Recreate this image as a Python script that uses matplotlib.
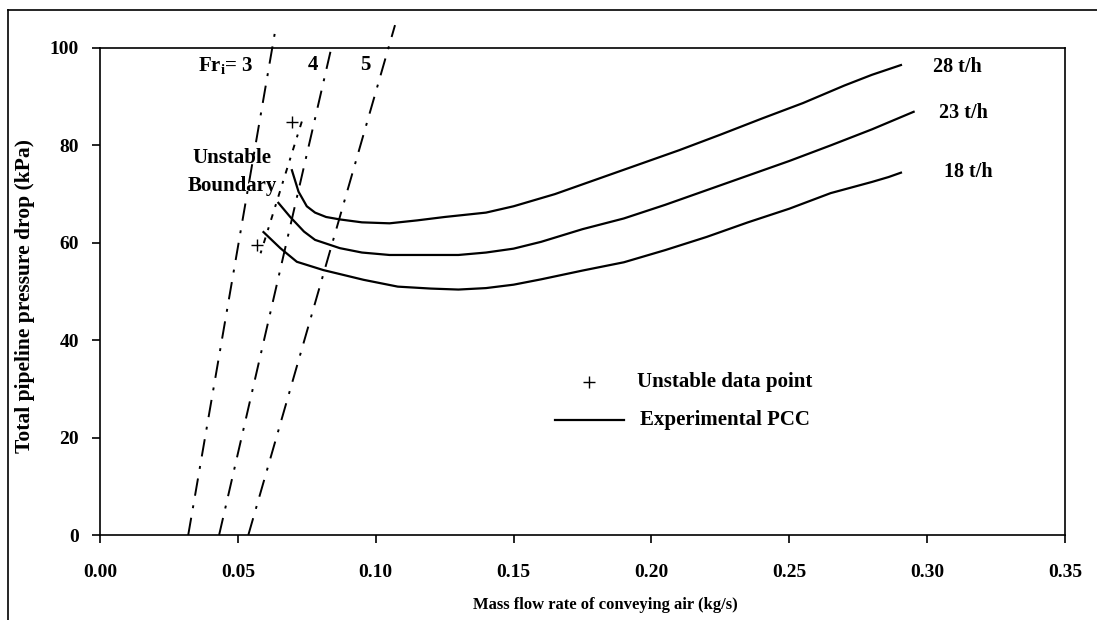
import matplotlib
matplotlib.use( 'Agg' )
import matplotlib.pyplot as plt
from matplotlib.lines import Line2D

# experimental pipeline conveying characteristics (kg/s , kPa)
x28 = [ 0.0696 , 0.0720 , 0.0750 , 0.0780 , 0.0820 , 0.0870 , 0.0950 , 0.1050 , 0.1150 , 0.1250 , 0.1400 , 0.1500 , 0.1650 , 0.1800 , 0.1950 , 0.2100 , 0.2250 , 0.2400 , 0.2550 , 0.2700 , 0.2800 , 0.2905 ]
y28 = [ 74.9 , 70.5 , 67.5 , 66.2 , 65.3 , 64.8 , 64.2 , 64.0 , 64.6 , 65.3 , 66.2 , 67.5 , 70.0 , 73.0 , 76.0 , 79.0 , 82.2 , 85.5 , 88.7 , 92.3 , 94.5 , 96.5 ]
x23 = [ 0.0647 , 0.0690 , 0.0740 , 0.0780 , 0.0870 , 0.0950 , 0.1050 , 0.1200 , 0.1300 , 0.1400 , 0.1500 , 0.1600 , 0.1750 , 0.1900 , 0.2050 , 0.2200 , 0.2350 , 0.2500 , 0.2650 , 0.2800 , 0.2951 ]
y23 = [ 68.2 , 65.3 , 62.3 , 60.6 , 58.9 , 58.0 , 57.5 , 57.5 , 57.5 , 58.0 , 58.8 , 60.2 , 62.8 , 65.0 , 67.8 , 70.8 , 73.8 , 76.8 , 80.0 , 83.3 , 86.9 ]
x18 = [ 0.0593 , 0.0654 , 0.0714 , 0.0810 , 0.0956 , 0.1080 , 0.1200 , 0.1300 , 0.1400 , 0.1500 , 0.1600 , 0.1750 , 0.1900 , 0.2050 , 0.2200 , 0.2350 , 0.2500 , 0.2650 , 0.2800 , 0.2860 , 0.2905 ]
y18 = [ 62.2 , 58.9 , 56.1 , 54.4 , 52.4 , 51.0 , 50.6 , 50.4 , 50.7 , 51.4 , 52.5 , 54.3 , 56.0 , 58.5 , 61.2 , 64.2 , 67.0 , 70.2 , 72.5 , 73.5 , 74.4 ]
curveLabels = [ '28 t/h' , '23 t/h' , '18 t/h' ]
curveLabelPos = [ ( 0.3023 , 96.1 ) , ( 0.3043 , 86.7 ) , ( 0.3060 , 74.6 ) ]

# constant inlet Froude number lines
frX = [ [ 0.0320 , 0.0639 ] , [ 0.0432 , 0.0843 ] , [ 0.0538 , 0.1070 ] ]
frY = [ [ 0.0 , 104.7 ] , [ 0.0 , 101.0 ] , [ 0.0 , 104.7 ] ]
frLabels = [ 'Fr$_\\mathregular{i}$= 3' , '4' , '5' ]
frLabelPos = [ ( 0.0356 , 96.5 ) , ( 0.0755 , 96.5 ) , ( 0.0943 , 96.5 ) ]

# unstable data points and boundary
unstX = [ 0.0698 , 0.0569 ]
unstY = [ 84.9 , 59.5 ]
boundX = [ 0.0732 , 0.0575 ]
boundY = [ 84.9 , 56.5 ]

xticks = [ 0.00 , 0.05 , 0.10 , 0.15 , 0.20 , 0.25 , 0.30 , 0.35 ]
yticks = [ 0 , 20 , 40 , 60 , 80 , 100 ]

plt.rcParams[ 'font.family' ] = [ 'Liberation Serif' , 'DejaVu Serif' ]
plt.rcParams[ 'font.weight' ] = 'bold'
plt.rcParams[ 'mathtext.default' ] = 'regular'

fig = plt.figure( figsize = ( 10.97 , 6.2 ) , dpi = 100 )
ax = fig.add_axes( [ 100 / 1097 , 1 - 535 / 620 , 965 / 1097 , 487 / 620 ] )

for xs , ys in zip( [ x28 , x23 , x18 ] , [ y28 , y23 , y18 ] ) :
	ax.plot( xs , ys , 'k-' , linewidth = 1.6 )
for ( px , py ) , lab in zip( curveLabelPos , curveLabels ) :
	ax.text( px , py , lab , fontsize = 14.5 , fontweight = 'bold' , va = 'center' , ha = 'left' )

for xs , ys in zip( frX , frY ) :
	ax.plot( xs , ys , color = 'k' , linewidth = 1.4 , dashes = ( 9 , 5 , 1.5 , 5 ) , clip_on = False )
for ( px , py ) , lab in zip( frLabelPos , frLabels ) :
	ax.text( px , py , lab , fontsize = 15 , fontweight = 'bold' , va = 'center' , ha = 'left' )

ax.plot( boundX , boundY , color = 'k' , linewidth = 1.4 , dashes = ( 3 , 4 , 1.5 , 4 ) )
ax.plot( unstX , unstY , 'k+' , markersize = 8 , markeredgewidth = 1.0 )
ax.text( 0.048 , 74.5 , 'Unstable\nBoundary' , fontsize = 15 , fontweight = 'bold' ,
	ha = 'center' , va = 'center' , linespacing = 1.55 )

# legend drawn by hand
ax.plot( [ 0.1772 ] , [ 31.5 ] , 'k+' , markersize = 8 , markeredgewidth = 1.0 )
ax.text( 0.1949 , 31.5 , 'Unstable data point' , fontsize = 15 , fontweight = 'bold' , va = 'center' )
ax.plot( [ 0.1649 , 0.1899 ] , [ 23.6 , 23.6 ] , 'k-' , linewidth = 1.6 )
ax.text( 0.1960 , 23.6 , 'Experimental PCC' , fontsize = 15 , fontweight = 'bold' , va = 'center' )

ax.set_xlim( 0 , 0.35 )
ax.set_ylim( 0 , 100 )
ax.set_xticks( xticks )
ax.set_xticklabels( [ '%.2f' % v for v in xticks ] )
ax.set_yticks( yticks )
ax.tick_params( axis = 'x' , direction = 'out' , length = 6 , width = 1.2 , pad = 15 , labelsize = 14 )
ax.tick_params( axis = 'y' , direction = 'out' , length = 6 , width = 1.2 , pad = 9 , labelsize = 14 )
for lab in ax.get_xticklabels() + ax.get_yticklabels() :
	lab.set_fontweight( 'bold' )
for sp in ax.spines.values() :
	sp.set_linewidth( 1.2 )

fig.text( 605 / 1097 , 1 - 605 / 620 , 'Mass flow rate of conveying air (kg/s)' , fontsize = 12 ,
	fontweight = 'bold' , ha = 'center' , va = 'center' )
fig.text( 25 / 1097 , 1 - 296 / 620 , 'Total pipeline pressure drop (kPa)' , fontsize = 15.5 ,
	fontweight = 'bold' , ha = 'center' , va = 'center' , rotation = 90 )

# outer frame of the figure
fig.add_artist( Line2D( [ 8 / 1097 , 8 / 1097 ] , [ 0 , 1 - 10 / 620 ] , color = 'k' , linewidth = 1.2 ) )
fig.add_artist( Line2D( [ 8 / 1097 , 1 ] , [ 1 - 10 / 620 , 1 - 10 / 620 ] , color = 'k' , linewidth = 1.2 ) )

fig.savefig( 'out.png' , dpi = 100 )
